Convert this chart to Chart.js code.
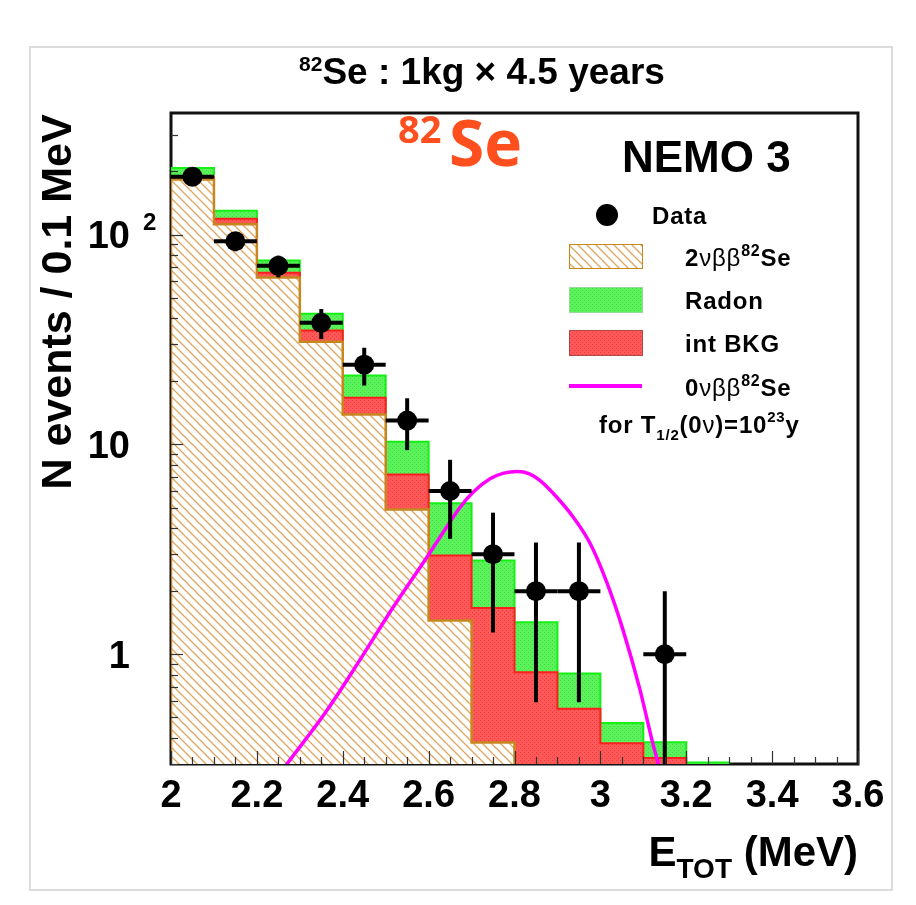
<!DOCTYPE html>
<html><head><meta charset="utf-8">
<script src="https://cdn.jsdelivr.net/npm/chart.js@4/dist/chart.umd.min.js"></script>
<style>html,body{margin:0;padding:0;background:#fff}canvas{display:block}</style>
</head><body>
<canvas id="c" width="916" height="905"></canvas>
<script>
// ---------- data ----------
const binEdges = [2.0, 2.1, 2.2, 2.3, 2.4, 2.5, 2.6, 2.7, 2.8, 2.9, 3.0, 3.1, 3.2, 3.3];
const twoNuBB  = [183, 112, 62.4, 30.9, 13.9, 4.9, 1.45, 0.38, 0.12, 0.05, 0.02, 0.01, 0.005];
const intBkg   = [4.6, 7.0, 3.5, 4.0, 2.8, 2.3, 1.51, 1.28, 0.70, 0.50, 0.357, 0.31, 0.0];
const radon    = [20, 11, 9.3, 7.1, 4.6, 3.1, 2.28, 1.14, 0.60, 0.26, 0.093, 0.061, 0.30];

const dataE   = [2.05, 2.15, 2.25, 2.35, 2.45, 2.55, 2.65, 2.75, 2.85, 2.95, 3.15];
const dataN   = [189, 93, 71, 38, 24, 13, 6, 3, 2, 2, 1];
const dataErr = [13.7, 9.6, 8.4, 6.2, 4.9, 3.6, 2.45, 1.73, 1.41, 1.41, 1.0];
const dataXErr = 0.05;

const zeroNuE = [2.25, 2.27, 2.363, 2.44, 2.517, 2.596, 2.626, 2.673, 2.704, 2.743, 2.775, 2.806, 2.835, 2.859, 2.898, 2.937, 2.976, 3.015, 3.053, 3.092, 3.123, 3.135, 3.145];
const zeroNuN = [0.264, 0.30, 0.54, 0.94, 1.67, 2.90, 3.60, 5.01, 5.93, 6.86, 7.30, 7.44, 7.25, 6.74, 5.62, 4.50, 3.38, 2.20, 1.30, 0.68, 0.37, 0.30, 0.25];

const xTickValues = [2, 2.2, 2.4, 2.6, 2.8, 3, 3.2, 3.4, 3.6];
const xTickLabels = ['2', '2.2', '2.4', '2.6', '2.8', '3', '3.2', '3.4', '3.6'];
const yTickValues = [1, 10, 100];
const yTickLabels = [['1', ''], ['10', ''], ['10', '2']];

const FLOOR = 1e-3; // below the axis, closes the histogram outline
const X_MIN = 2, X_MAX = 3.6, Y_MIN = 0.3, Y_MAX = 380;

// ---------- helpers ----------
const FONT = "'Liberation Sans', Arial, Helvetica, sans-serif";
function cumulative(...arrs) { return arrs[0].map((_, i) => arrs.reduce((s, a) => s + a[i], 0)); }
const cum2nu = cumulative(twoNuBB);
const cumInt = cumulative(twoNuBB, intBkg);
const cumRad = cumulative(twoNuBB, intBkg, radon);
function histPoints(vals) {
  const pts = [{x: binEdges[0], y: FLOOR}];
  vals.forEach((v, i) => pts.push({x: binEdges[i], y: v}));
  pts.push({x: binEdges[binEdges.length - 1], y: vals[vals.length - 1]});
  pts.push({x: binEdges[binEdges.length - 1], y: FLOOR});
  return pts;
}
function makePattern(size, draw) {
  const c = document.createElement('canvas'); c.width = size; c.height = size;
  const g = c.getContext('2d'); draw(g, size);
  return document.getElementById('c').getContext('2d').createPattern(c, 'repeat');
}
const hatch = makePattern(9, (g, s) => {
  g.fillStyle = '#ffffff'; g.fillRect(0, 0, s, s);
  g.strokeStyle = '#dfa55a'; g.lineWidth = 1.3;
  g.beginPath(); g.moveTo(-1, -1); g.lineTo(s + 1, s + 1);
  g.moveTo(-1, s - 1); g.lineTo(1, s + 1); g.moveTo(s - 1, -1); g.lineTo(s + 1, 1); g.stroke();
});
const redFill = makePattern(4, (g, s) => {
  g.fillStyle = '#ff5858'; g.fillRect(0, 0, s, s);
  g.fillStyle = '#ec3c3c'; g.fillRect(0, 0, 1, 1); g.fillRect(2, 2, 1, 1);
});
const greenFill = makePattern(4, (g, s) => {
  g.fillStyle = '#5cf25c'; g.fillRect(0, 0, s, s);
  g.fillStyle = '#3edc3e'; g.fillRect(0, 0, 1, 1); g.fillRect(2, 2, 1, 1);
});

function rich(ctx, parts, x, y, align) {
  let w = 0;
  parts.forEach(p => { ctx.font = `${p.w || 'bold'} ${p.s}px ${p.f || FONT}`; p._w = ctx.measureText(p.t).width; w += p._w; });
  let cx = align === 'right' ? x - w : align === 'center' ? x - w / 2 : x;
  ctx.textAlign = 'left'; ctx.textBaseline = 'alphabetic';
  parts.forEach(p => { ctx.font = `${p.w || 'bold'} ${p.s}px ${p.f || FONT}`; ctx.fillText(p.t, cx, y + (p.dy || 0)); cx += p._w; });
}

const decorations = {
  id: 'decorations',
  beforeDraw(chart) {
    const ctx = chart.ctx; ctx.save();
    ctx.strokeStyle = '#dcdcdc'; ctx.lineWidth = 2;
    ctx.strokeRect(30, 47, 862, 843);
    ctx.restore();
  },
  beforeDatasetsDraw(chart) {
    const ctx = chart.ctx, ca = chart.chartArea; ctx.save();
    ctx.strokeStyle = '#111'; ctx.lineWidth = 3;
    ctx.strokeRect(ca.left, ca.top, ca.right - ca.left, ca.bottom - ca.top);
    ctx.restore();
  },
  afterDatasetsDraw(chart) {
    const ctx = chart.ctx, ca = chart.chartArea, xs = chart.scales.x, ys = chart.scales.y;
    ctx.save();
    ctx.beginPath(); ctx.rect(ca.left, ca.top, ca.right - ca.left, ca.bottom - ca.top); ctx.clip();
    // error bars
    ctx.strokeStyle = '#000'; ctx.lineWidth = 4; ctx.lineCap = 'butt';
    dataE.forEach((e, i) => {
      const px = xs.getPixelForValue(e), py = ys.getPixelForValue(dataN[i]);
      const lo = dataN[i] - dataErr[i];
      const pyLo = lo > Y_MIN ? ys.getPixelForValue(lo) : ca.bottom;
      const pyHi = ys.getPixelForValue(dataN[i] + dataErr[i]);
      ctx.beginPath(); ctx.moveTo(px, pyLo); ctx.lineTo(px, pyHi); ctx.stroke();
      ctx.beginPath(); ctx.moveTo(xs.getPixelForValue(e - dataXErr), py); ctx.lineTo(xs.getPixelForValue(e + dataXErr), py); ctx.stroke();
    });
    ctx.restore();
    // axis ticks (inside)
    ctx.save(); ctx.strokeStyle = '#333'; ctx.lineWidth = 1.2;
    for (let k = 0; k <= 32; k++) {
      const v = X_MIN + k * 0.05, px = Math.round(xs.getPixelForValue(v)) + 0.5, L = k % 4 === 0 ? 13 : 7;
      ctx.beginPath(); ctx.moveTo(px, ca.bottom); ctx.lineTo(px, ca.bottom - L); ctx.stroke();
    }
    for (let d = -1; d <= 2; d++) for (let m = 1; m <= 9; m++) {
      const v = m * Math.pow(10, d); if (v < Y_MIN || v > Y_MAX) continue;
      const py = Math.round(ys.getPixelForValue(v)) + 0.5, L = m === 1 ? 12 : 7;
      ctx.beginPath(); ctx.moveTo(ca.left, py); ctx.lineTo(ca.left + L, py); ctx.stroke();
    }
    ctx.restore();
  },
  afterDraw(chart) {
    const ctx = chart.ctx, ys = chart.scales.y, ca = chart.chartArea;
    ctx.save(); ctx.fillStyle = '#000';
    // y tick labels
    yTickValues.forEach((v, i) => {
      const py = ys.getPixelForValue(v);
      const [base, exp] = yTickLabels[i];
      ctx.font = `bold 38px ${FONT}`; ctx.textAlign = 'right'; ctx.textBaseline = 'alphabetic';
      ctx.fillText(base, 130, py + 13.5);
      if (exp) { ctx.font = `bold 24px ${FONT}`; ctx.textAlign = 'left'; ctx.fillText(exp, 143, py - 5); }
    });
    // title
    rich(ctx, [{t: '82', s: 21, dy: -13}, {t: 'Se : 1kg \u00d7 4.5 years', s: 37}], 482, 84, 'center');
    // y title
    ctx.save(); ctx.translate(71, 302); ctx.rotate(-Math.PI / 2);
    ctx.font = `bold 43px ${FONT}`; ctx.textAlign = 'center'; ctx.textBaseline = 'alphabetic';
    ctx.fillText('N events / 0.1 MeV', 0, 0); ctx.restore();
    // x title
    rich(ctx, [{t: 'E', s: 42}, {t: 'TOT', s: 28, dy: 12}, {t: ' (MeV)', s: 42}], ca.right, 866, 'right');
    // 82Se orange label
    ctx.fillStyle = '#ff4f1e';
    rich(ctx, [{t: '82', s: 38, f: "'Open Sans', sans-serif"}], 398, 143, 'left');
    rich(ctx, [{t: 'Se', s: 64, f: "'Open Sans', sans-serif"}], 449, 166, 'left');
    ctx.fillStyle = '#000';
    // NEMO 3
    rich(ctx, [{t: 'NEMO 3', s: 44}], 622, 172, 'left');
    // legend
    ctx.letterSpacing = '0.8px';
    ctx.beginPath(); ctx.arc(607, 215, 11, 0, Math.PI * 2); ctx.fill();
    rich(ctx, [{t: 'Data', s: 24}], 652, 224, 'left');
    ctx.fillStyle = hatch; ctx.fillRect(569, 244, 73, 24);
    ctx.strokeStyle = '#c8861e'; ctx.lineWidth = 1; ctx.strokeRect(569.5, 244.5, 73, 24);
    ctx.fillStyle = '#000';
    rich(ctx, [{t: '2', s: 24}, {t: '\u03bd\u03b2\u03b2', s: 24, w: 'normal'}, {t: '82', s: 16, dy: -10}, {t: 'Se', s: 24}], 685, 266, 'left');
    ctx.fillStyle = greenFill; ctx.fillRect(569, 287, 73, 25);
    ctx.strokeStyle = '#9ad89a'; ctx.strokeRect(569.5, 287.5, 73, 25);
    ctx.fillStyle = '#000';
    rich(ctx, [{t: 'Radon', s: 24}], 685, 309, 'left');
    ctx.fillStyle = redFill; ctx.fillRect(569, 330, 73, 25);
    ctx.strokeStyle = '#b04848'; ctx.strokeRect(569.5, 330.5, 73, 25);
    ctx.fillStyle = '#000';
    rich(ctx, [{t: 'int BKG', s: 24}], 685, 352, 'left');
    ctx.strokeStyle = '#ff00ff'; ctx.lineWidth = 4;
    ctx.beginPath(); ctx.moveTo(569, 386); ctx.lineTo(642, 386); ctx.stroke();
    rich(ctx, [{t: '0', s: 24}, {t: '\u03bd\u03b2\u03b2', s: 24, w: 'normal'}, {t: '82', s: 16, dy: -10}, {t: 'Se', s: 24}], 685, 396, 'left');
    rich(ctx, [{t: 'for T', s: 24}, {t: '1/2', s: 15, dy: 7}, {t: '(0', s: 24}, {t: '\u03bd', s: 24, w: 'normal'}, {t: ')=10', s: 24}, {t: '23', s: 15, dy: -11}, {t: 'y', s: 24}], 599, 433, 'left');
    ctx.letterSpacing = '0px';
    ctx.restore();
  }
};

function build() {
  new Chart(document.getElementById('c'), {
    type: 'line',
    data: {
      datasets: [
        {label: 'Data', type: 'scatter', data: dataE.map((e, i) => ({x: e, y: dataN[i]})),
         pointRadius: 10, pointBackgroundColor: '#000', pointBorderWidth: 0, showLine: false},
        {label: '0vbb', data: zeroNuE.map((e, i) => ({x: e, y: zeroNuN[i]})), borderColor: '#ff00ff',
         borderWidth: 3.5, pointRadius: 0, cubicInterpolationMode: 'monotone', fill: false},
        {label: '2vbb', data: histPoints(cum2nu), stepped: 'before', borderColor: '#c8861e', borderWidth: 2.5,
         backgroundColor: hatch, fill: 'start', pointRadius: 0},
        {label: 'int BKG', data: histPoints(cumInt), stepped: 'before', borderColor: '#ff1e1e', borderWidth: 2,
         backgroundColor: redFill, fill: '-1', pointRadius: 0},
        {label: 'Radon', data: histPoints(cumRad), stepped: 'before', borderColor: '#14f014', borderWidth: 2,
         backgroundColor: greenFill, fill: '-1', pointRadius: 0}
      ]
    },
    options: {
      responsive: false, animation: false,
      layout: {padding: {top: 113, right: 58, left: 0, bottom: 0}},
      plugins: {legend: {display: false}, tooltip: {enabled: false}},
      scales: {
        x: {type: 'linear', min: X_MIN, max: X_MAX,
            afterBuildTicks: s => { s.ticks = xTickValues.map(v => ({value: v})); },
            ticks: {callback: (v, i) => xTickLabels[i], color: '#000', padding: 10, maxRotation: 0, autoSkip: false,
                    font: {family: FONT, size: 38, weight: 'bold'}},
            grid: {display: false, drawTicks: false}, border: {display: false},
            afterFit: s => { s.height = 141; }},
        y: {type: 'logarithmic', min: Y_MIN, max: Y_MAX,
            ticks: {display: false}, grid: {display: false, drawTicks: false}, border: {display: false},
            afterFit: s => { s.width = 171; }}
      }
    },
    plugins: [decorations]
  });
}
Promise.race([
  Promise.all([document.fonts.load("bold 62px 'Open Sans'"), document.fonts.load("bold 38px 'Liberation Sans'")]),
  new Promise(r => setTimeout(r, 800))
]).then(build, build);
</script>
</body></html>
